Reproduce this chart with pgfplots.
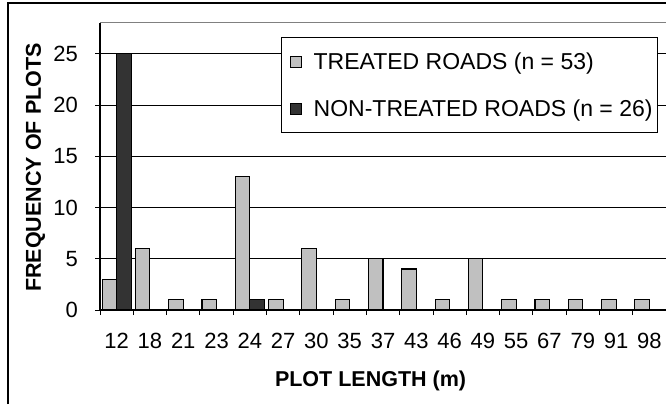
\documentclass[border=0pt]{standalone}
\usepackage{pgfplots}
\pgfplotsset{compat=1.18}
\usepackage{fontspec}
\setmainfont{Liberation Sans}
\definecolor{treated}{RGB}{192,192,192}
\definecolor{nontreated}{RGB}{51,51,51}
\newcommand\tickfont{\fontsize{22}{26}\selectfont}
\newcommand\labelfont{\fontsize{21.5}{25}\selectfont\bfseries}
\newcommand\legfont{\fontsize{23}{27}\selectfont}
\begin{document}
\begin{tikzpicture}[x=1pt,y=1pt]
\useasboundingbox (0,0) rectangle (666,404);
\draw[line width=2pt] (8,0) -- (8,401) -- (666,401);
\begin{axis}[
  at={(100pt,94pt)}, anchor=south west,
  scale only axis, width=566pt, height=287pt,
  ybar=0pt, bar width=14.5pt,
  xmin=-0.5, xmax=16.5, ymin=0, ymax=28,
  xtick={0,...,16},
  xticklabels={12,18,21,23,24,27,30,35,37,43,46,49,55,67,79,91,98},
  major x tick style={draw=none},
  minor xtick={-0.5,0.5,...,16.5},
  minor tick length=5pt,
  ytick={0,5,...,25},
  major tick length=5pt,
  tick align=outside,
  tick style={black, line width=0.8pt},
  extra y ticks={28}, extra y tick labels={},
  extra y tick style={major tick length=0pt, grid style={gray, line width=1pt}},
  ymajorgrids, grid style={black, line width=0.9pt},
  axis x line*=bottom, axis y line*=left,
  axis line style={black, line width=1.2pt, -},
  /pgf/number format/assume math mode=true,
  xticklabel style={font=\tickfont, anchor=center, yshift=-26pt},
  yticklabel style={font=\tickfont, anchor=east, inner sep=0pt, xshift=-17pt},
  xlabel={PLOT LENGTH (m)},
  ylabel={FREQUENCY OF PLOTS},
  xlabel style={font=\labelfont, at={(axis description cs:0.478,-0.247)}, anchor=center},
  ylabel style={font=\labelfont, at={(axis description cs:-0.114,0.4965)}, anchor=center},
  legend style={at={(axis description cs:0.986,0.951)}, anchor=north east,
    draw=black, line width=1pt, font=\legfont,
    inner xsep=5pt, inner ysep=15.75pt, row sep=30.5pt, column sep=0pt,
    nodes={inner sep=0pt, text height=16.5pt, text depth=0pt},
    cells={anchor=west}},
  legend image code/.code={%
    \path (-3pt,0pt) (23pt,0pt);
    \draw[#1, line width=0.9pt] (0pt,-5.5pt) rectangle (11pt,5.5pt);},
]
\addplot[draw=black, line width=1.1pt, fill=treated] coordinates {
  (0,3) (1,6) (2,1) (3,1) (4,13) (5,1) (6,6) (7,1) (8,5) (9,4)
  (10,1) (11,5) (12,1) (13,1) (14,1) (15,1) (16,1)};
\addplot[draw=black, line width=1.1pt, fill=nontreated] coordinates {
  (0,25) (4,1)};
\legend{TREATED ROADS (n = 53), NON-TREATED ROADS (n = 26)}
\end{axis}
\end{tikzpicture}
\end{document}
